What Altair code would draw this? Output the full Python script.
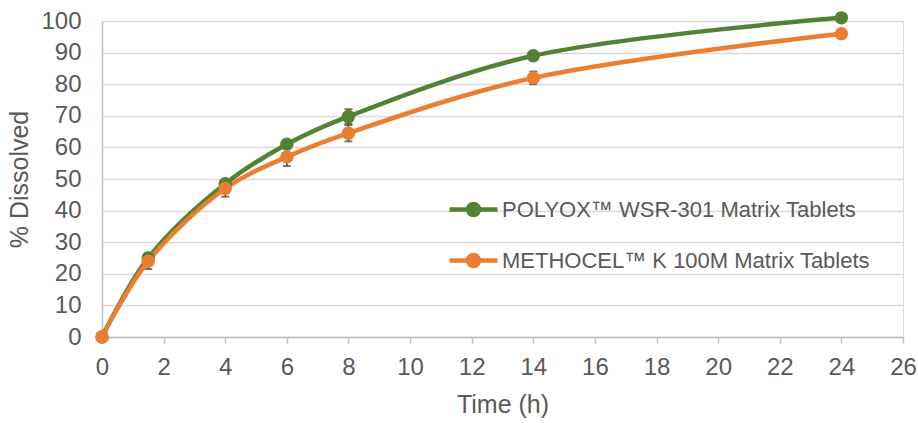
import altair as alt
import pandas as pd

times = [0, 1.5, 4, 6, 8, 14, 24]
series_names = ["POLYOX™ WSR-301 Matrix Tablets", "METHOCEL™ K 100M Matrix Tablets"]
polyox = [0, 25, 48.5, 61, 69.8, 89, 101]
polyox_err = [0, 1, 1, 1, 2.3, 1, 0.5]
methocel = [0, 24, 47, 57, 64.5, 82, 96]
methocel_err = [0, 2.5, 2.6, 2.9, 2.6, 2, 0.5]
colors = ["#548235", "#ED7D31"]

rows = []
for name, vals, errs in [(series_names[0], polyox, polyox_err), (series_names[1], methocel, methocel_err)]:
    for t, v, e in zip(times, vals, errs):
        rows.append({"series": name, "time": t, "value": v, "lo": v - e, "hi": v + e})
df = pd.DataFrame(rows)

FONT = "Liberation Sans"
TXT = "#595959"

x_axis = alt.Axis(values=list(range(0, 27, 2)), grid=False, tickSize=6,
                  tickColor="#bfbfbf", tickWidth=1.5, domainColor="#bfbfbf", domainWidth=1.5,
                  labelFontSize=24, labelColor=TXT, titleFontSize=25, titleColor=TXT,
                  titleFontWeight="normal", labelPadding=12, titlePadding=13,
                  labelFont=FONT, titleFont=FONT, labelFlush=False, labelOverlap=False)
y_axis = alt.Axis(values=list(range(0, 101, 10)), grid=True, gridColor="#d9d9d9",
                  gridWidth=1.5, ticks=False, domainColor="#bfbfbf", domainWidth=1.5,
                  labelFontSize=24, labelColor=TXT, titleFontSize=25, titleColor=TXT,
                  titleFontWeight="normal", labelPadding=21, titlePadding=8,
                  labelFont=FONT, titleFont=FONT, labelFlush=False, labelOverlap=False)
x_scale = alt.Scale(domain=[0, 26], nice=False)
y_scale = alt.Scale(domain=[0, 100], nice=False)


def X():
    return alt.X("time:Q", title="Time (h)", scale=x_scale, axis=x_axis)


def Y(field):
    return alt.Y(f"{field}:Q", title="% Dissolved", scale=y_scale, axis=y_axis)


color = alt.Color("series:N", scale=alt.Scale(domain=series_names, range=colors),
                  sort=series_names,
                  legend=alt.Legend(title=None, orient="none", legendX=345, legendY=162,
                                    symbolType="M-1,0H1M0.23,0A0.23,0.23 0 1,1 -0.23,0A0.23,0.23 0 1,1 0.23,0Z",
                                    symbolSize=2304, symbolStrokeWidth=4.5,
                                    labelFontSize=22, labelColor=TXT, labelFont=FONT,
                                    labelLimit=600, rowPadding=9, labelOffset=2, padding=0))

base = alt.Chart(df)

err_rule = base.mark_rule(color="#404040", strokeWidth=1.5).encode(
    x=X(), y=Y("lo"), y2="hi:Q")
err_lo = base.mark_tick(color="#404040", thickness=2, size=8, orient="horizontal").encode(
    x=X(), y=Y("lo"))
err_hi = base.mark_tick(color="#404040", thickness=2, size=8, orient="horizontal").encode(
    x=X(), y=Y("hi"))

line = base.mark_line(strokeWidth=4.5, interpolate="catmull-rom", clip=False).encode(
    x=X(), y=Y("value"), color=color, detail="series:N")
pts = base.mark_point(filled=True, size=180, opacity=1, clip=False).encode(
    x=X(), y=Y("value"), color=color)

chart = alt.layer(err_rule, err_lo, err_hi, line, pts).properties(
    width=801, height=316,
    autosize=alt.AutoSizeParams(type="none"),
    padding={"left": 102, "top": 21, "right": 15, "bottom": 86},
).configure_view(stroke=None).configure(background="white")

chart.save("out.html", embed_options={"renderer": "svg", "actions": False})
